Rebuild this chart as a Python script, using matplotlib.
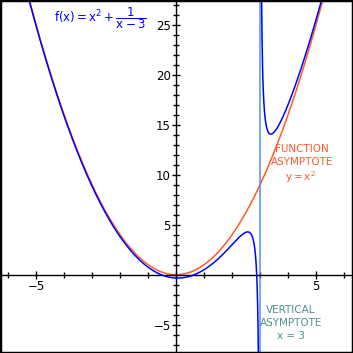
import numpy as np
import matplotlib
matplotlib.use("Agg")
import matplotlib.pyplot as plt
from matplotlib.patches import Rectangle
from matplotlib.ticker import MultipleLocator, FixedLocator

# plot window and labelled ticks
x_range = (-6.29, 6.32)
y_range = (-7.83, 27.47)
asymptote_x = 3
x_labels = [-5, 5]
y_labels = [-5, 5, 10, 15, 20, 25]

blue = "#0000ff"
orange = "#ff5a28"
light_blue = "#4f8fff"
teal = "#4f8f8f"

plt.rcParams["mathtext.fontset"] = "dejavusans"

fig = plt.figure(figsize=(3.53, 3.53), dpi=100)
ax = fig.add_axes([0, 0, 1, 1])

x_left = np.linspace(x_range[0], asymptote_x - 0.001, 4000)
x_right = np.linspace(asymptote_x + 0.001, x_range[1], 4000)
x_all = np.linspace(x_range[0], x_range[1], 800)

ax.plot(x_all, x_all ** 2, color=orange, lw=1.1, zorder=2)
ax.axvline(asymptote_x, color=light_blue, lw=1.1, zorder=2)
for xs in (x_left, x_right):
    ax.plot(xs, xs ** 2 + 1 / (xs - asymptote_x), color=blue, lw=1.1, zorder=3)

ax.set_xlim(*x_range)
ax.set_ylim(*y_range)

for side in ("top", "right"):
    ax.spines[side].set_visible(False)
ax.spines["left"].set_position(("data", 0))
ax.spines["bottom"].set_position(("data", 0))
ax.spines["left"].set_linewidth(1.0)
ax.spines["bottom"].set_linewidth(1.0)

ax.xaxis.set_major_locator(FixedLocator(x_labels))
ax.yaxis.set_major_locator(FixedLocator(y_labels))
ax.xaxis.set_minor_locator(MultipleLocator(1))
ax.yaxis.set_minor_locator(MultipleLocator(1))
ax.tick_params(which="both", direction="inout", length=4.5, width=1.0, labelsize=8.5,
               pad=1)
ax.tick_params(which="major", length=6)

ax.text(-2.7, 25.7, r"$\mathregular{f(x) = x^2 + \dfrac{1}{x - 3}}$", color=blue,
        fontsize=8.5, ha="center", va="center")

ax.text(4.5, 11.9, "FUNCTION\nASYMPTOTE", color=orange, fontsize=7.5,
        ha="center", va="center", linespacing=1.4)
ax.text(4.45, 9.75, r"$\mathregular{y = x^2}$", color=orange, fontsize=7.5,
        ha="center", va="center")

ax.text(4.1, -4.85, "VERTICAL\nASYMPTOTE\nx = 3", color=teal, fontsize=7.5,
        ha="center", va="center", linespacing=1.4)

fig.patches.append(Rectangle((0, 0), 1, 1, transform=fig.transFigure, fill=False,
                             edgecolor="black", lw=2.5, zorder=10))

fig.savefig("out.png", dpi=100)
